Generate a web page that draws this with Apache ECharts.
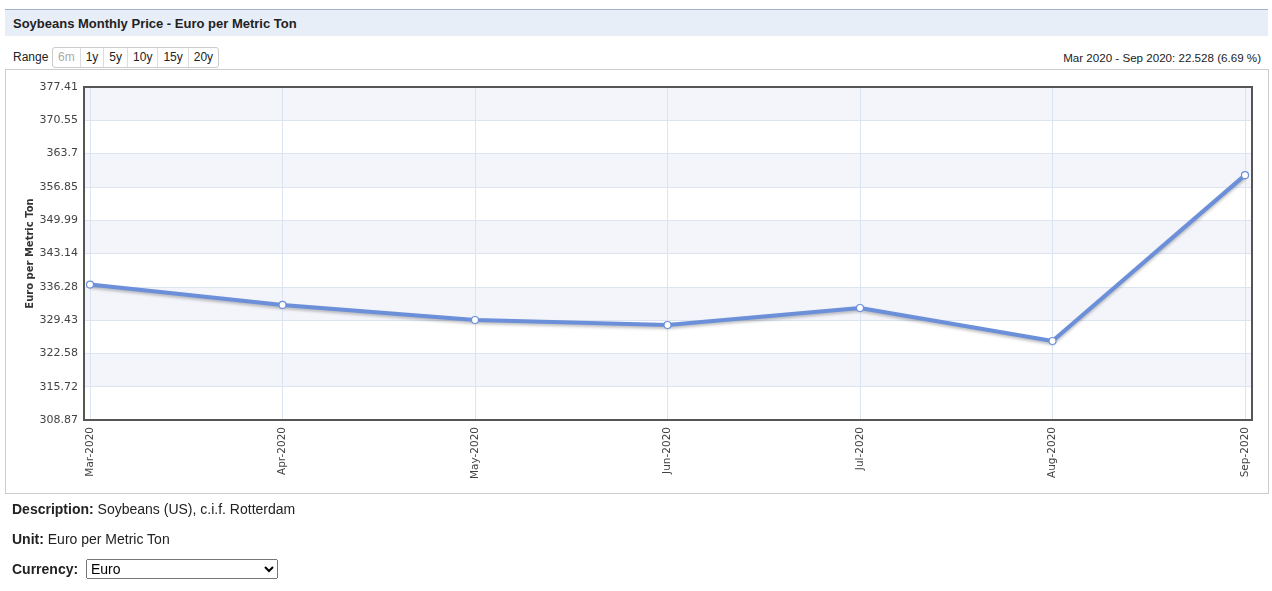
<!DOCTYPE html>
<html><head><meta charset="utf-8">
<script src="https://cdn.jsdelivr.net/npm/echarts@6/dist/echarts.min.js"></script>
<style>
html,body{margin:0;padding:0;width:1272px;height:591px;background:#fff;font-family:"Liberation Sans",Arial,sans-serif;color:#222;overflow:hidden;position:relative}
.abs{position:absolute}
#titlebar{left:5px;top:9px;width:1263px;height:27px;background:#e8eef8;border-top:1px solid #9fb2cf;box-sizing:border-box}
#titlebar span{position:absolute;left:8px;top:6px;font-size:13px;font-weight:bold;color:#222}
#range{left:13px;top:50px;font-size:12px}
.btns{left:52px;top:47px;height:21px;display:flex;border:1px solid #ccc;border-radius:3px;box-sizing:border-box}
.btns div{font-size:12px;padding:0 5px;line-height:19px;border-left:1px solid #ddd;color:#222}
.btns div:first-child{border-left:none;color:#aaa}
#chg{right:11px;top:51px;font-size:11.6px}
#box{left:5px;top:69px;width:1264px;height:425px;border:1px solid #ccc;box-sizing:border-box}
#chart{left:0;top:0;width:1272px;height:591px}
.info{left:12px;font-size:14px}
select{position:absolute;left:86px;top:559px;width:192px;height:20px;font-size:14px;font-family:"Liberation Sans",Arial,sans-serif}
</style></head>
<body>
<div id="titlebar" class="abs"><span>Soybeans Monthly Price - Euro per Metric Ton</span></div>
<div id="range" class="abs">Range</div>
<div class="btns abs"><div>6m</div><div>1y</div><div>5y</div><div>10y</div><div>15y</div><div>20y</div></div>
<div id="chg" class="abs">Mar 2020 - Sep 2020: 22.528 (6.69 %)</div>
<div id="box" class="abs"></div>
<div id="chart" class="abs"></div>
<div class="info abs" style="top:501px"><b>Description:</b> Soybeans (US), c.i.f. Rotterdam</div>
<div class="info abs" style="top:531px"><b>Unit:</b> Euro per Metric Ton</div>
<div class="info abs" style="top:561px"><b>Currency:</b></div>
<select><option>Euro</option></select>
<script>
var categories = ["Mar-2020","Apr-2020","May-2020","Jun-2020","Jul-2020","Aug-2020","Sep-2020"];
var prices = [336.74, 332.55, 329.45, 328.42, 331.92, 325.13, 359.27];
var yTickLabels = ["308.87","315.72","322.58","329.43","336.28","343.14","349.99","356.85","363.7","370.55","377.41"];
var yMin = 308.87, yMax = 377.41;
var yStep = (yMax - yMin) / 10;

var chart = echarts.init(document.getElementById('chart'), null, {renderer:'canvas'});
var lblFont = '"DejaVu Sans", Verdana, sans-serif';
chart.setOption({
  animation:false,
  grid:[
    {left:84, top:87, width:1168, height:333, show:true, borderColor:'#555', borderWidth:2, backgroundColor:'transparent', z:3},
    {left:90, top:87, width:1155, height:333}
  ],
  xAxis:[
    {gridIndex:0, type:'value', min:0, max:1, show:false},
    {gridIndex:1, type:'category', data:categories, boundaryGap:false,
     axisLine:{show:false}, axisTick:{show:false},
     axisLabel:{rotate:90, margin:7, fontSize:10.5, color:'#444', fontFamily:lblFont, interval:0},
     splitLine:{show:true, lineStyle:{color:'#dce4f2', width:1}}}
  ],
  yAxis:[
    {gridIndex:0, type:'value', min:yMin, max:yMax, interval:yStep,
     name:'Euro per Metric Ton', nameLocation:'middle', nameGap:49, nameMoveOverlap:false,
     nameTextStyle:{fontSize:10, fontWeight:'bold', color:'#333', fontFamily:lblFont},
     axisLine:{show:false}, axisTick:{show:false},
     axisLabel:{margin:6, fontSize:11, color:'#444', fontFamily:lblFont,
       formatter:function(v, i){ return yTickLabels[i]; }},
     splitLine:{show:true, lineStyle:{color:'#dce4f2', width:1}},
     splitArea:{show:true, areaStyle:{color:['#ffffff','#f3f5fb']}}},
    {gridIndex:1, type:'value', min:yMin, max:yMax, interval:yStep, show:false,
     splitLine:{show:false}}
  ],
  series:[{
    type:'line', xAxisIndex:1, yAxisIndex:1, data:prices,
    symbol:'circle', symbolSize:7, showSymbol:true,
    lineStyle:{color:'#6b8fd8', width:4, shadowColor:'rgba(0,0,0,0.25)', shadowBlur:3, shadowOffsetY:2},
    itemStyle:{color:'#ffffff', borderColor:'#6b8fd8', borderWidth:1.2},
    z:5
  }]
});
</script>
</body></html>
